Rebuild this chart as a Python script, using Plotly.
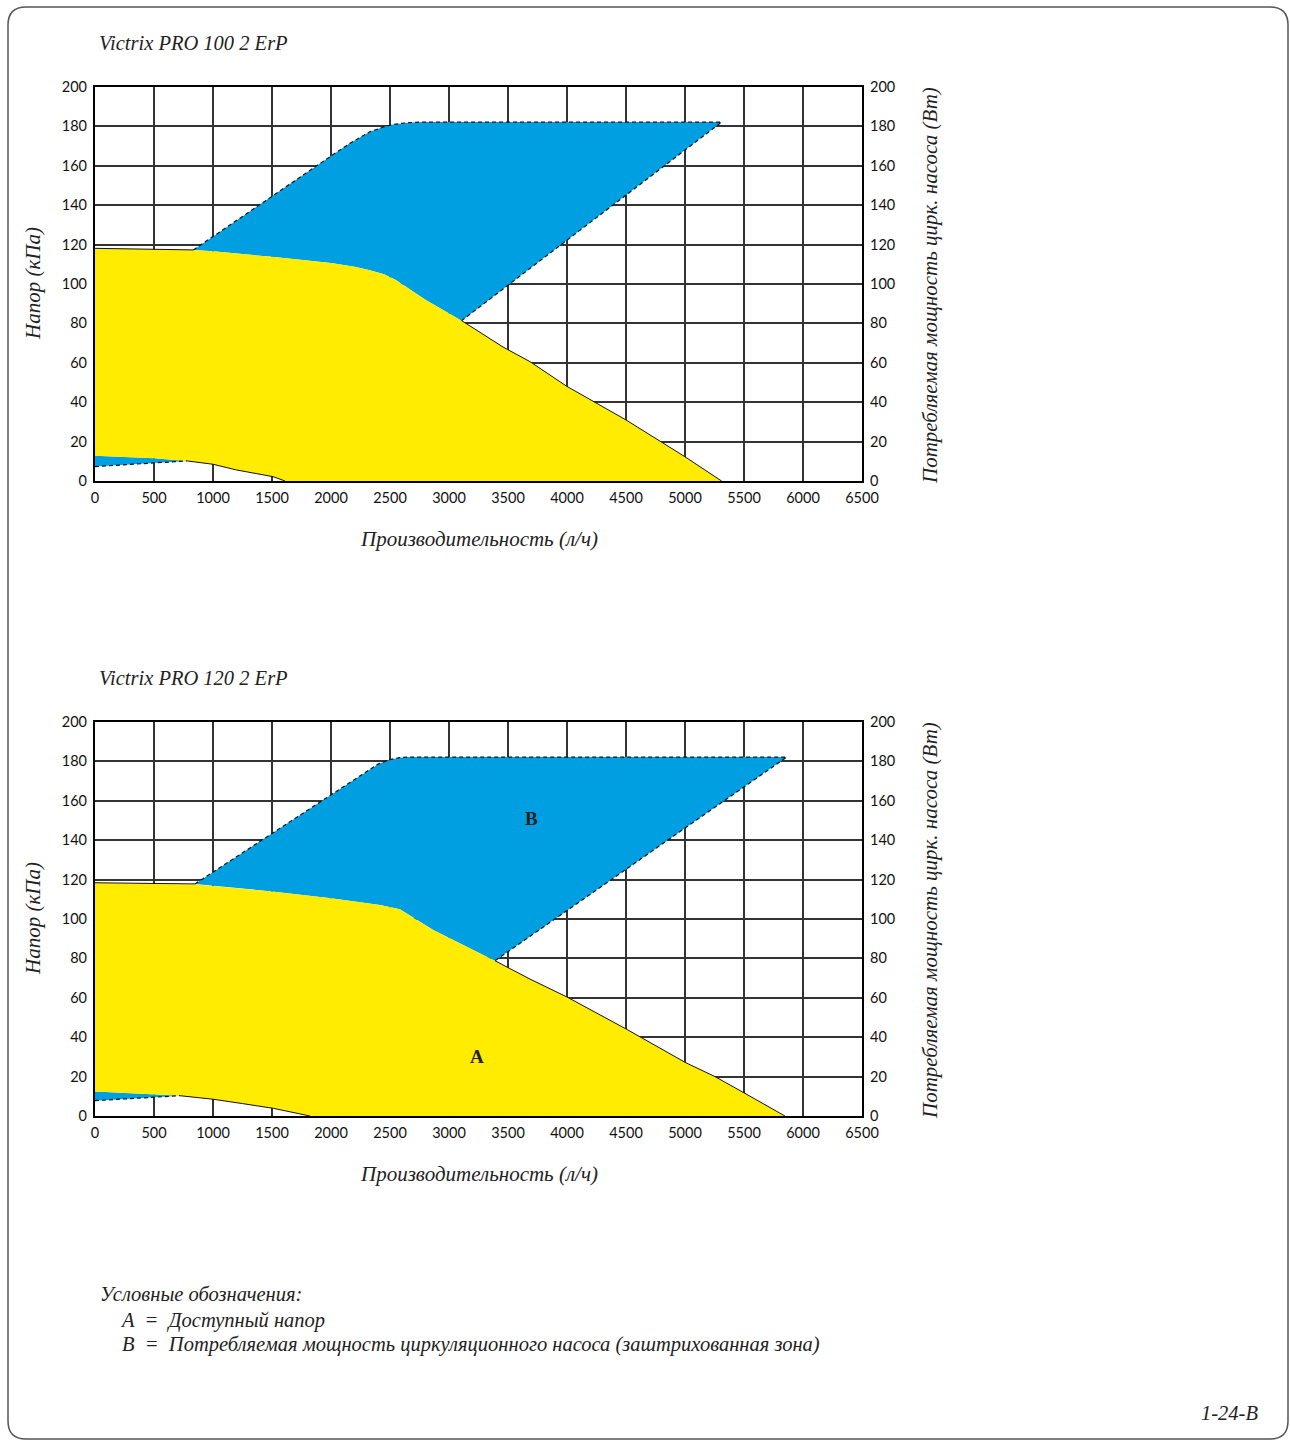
import plotly.graph_objects as go

W, H = 1290, 1441

# ---------------- Data: Victrix PRO 100 2 ErP ----------------
c1_head_x = [0, 200, 500, 833, 1000, 1500, 2000, 2200, 2330, 2450, 2550, 2800, 3107, 3458, 3686, 4000, 4500, 5000, 5310]
c1_head_y = [118.1, 118.0, 117.6, 117.3, 116.6, 113.8, 110.6, 108.8, 107.0, 105.0, 102.0, 92.0, 81.4, 68.0, 60.6, 48.0, 31.0, 12.3, 0.0]
c1_low_x = [0, 250, 500, 780, 1000, 1200, 1510, 1610]
c1_low_y = [12.8, 12.2, 11.5, 10.2, 8.5, 5.6, 2.2, 0.0]
c1_pmin_x = [0, 250, 500, 780]
c1_pmin_y = [7.3, 8.3, 9.3, 10.2]
c1_pmax_x = [833, 1000, 1500, 2000, 2161, 2330, 2450, 2528, 2650, 2780, 5310, 3107]
c1_pmax_y = [117.3, 124.2, 144.5, 165.0, 171.4, 177.3, 179.8, 181.0, 181.9, 182.2, 182.2, 81.4]

# ---------------- Data: Victrix PRO 120 2 ErP ----------------
c2_head_x = [0, 200, 500, 847, 1000, 1500, 2000, 2415, 2585, 2700, 2867, 3375, 3686, 4000, 4280, 4506, 5008, 5254, 5508, 5847]
c2_head_y = [118.4, 118.3, 117.8, 117.5, 116.8, 114.0, 110.5, 107.1, 104.9, 100.5, 94.4, 79.2, 69.5, 60.4, 51.3, 44.0, 27.0, 20.0, 11.5, 0.0]
c2_low_x = [0, 220, 438, 720, 1003, 1250, 1511, 1822]
c2_low_y = [12.4, 11.9, 11.2, 10.3, 8.5, 6.3, 3.9, 0.0]
c2_pmin_x = [0, 220, 438, 720]
c2_pmin_y = [7.8, 8.6, 9.3, 10.3]
c2_pmax_x = [847, 1000, 1500, 2000, 2200, 2398, 2500, 2580, 2650, 5862, 3390]
c2_pmax_y = [117.8, 123.8, 143.5, 163.3, 171.2, 178.6, 180.9, 181.9, 182.2, 182.2, 78.8]

x_ticks = [0, 500, 1000, 1500, 2000, 2500, 3000, 3500, 4000, 4500, 5000, 5500, 6000, 6500]
y_ticks = [0, 20, 40, 60, 80, 100, 120, 140, 160, 180, 200]

titles = ["Victrix PRO 100 2 ErP", "Victrix PRO 120 2 ErP"]
x_title = "Производительность (л/ч)"
y_title_left = "Напор (кПа)"
y_title_right = "Потребляемая мощность цирк. насоса (Вт)"
legend_lines = ["Условные обозначения:",
                "A  =  Доступный напор",
                "B  =  Потребляемая мощность циркуляционного насоса (заштрихованная зона)"]
page_code = "1-24-B"

BLUE = "#009FE1"
YELLOW = "#FFEC00"
SERIF = "Liberation Serif"
SANS = "Lato"


def px(x):
    return x / W


def py(y):
    return 1 - y / H


fig = go.Figure()

charts = [
    dict(head_x=c1_head_x, head_y=c1_head_y, low_x=c1_low_x, low_y=c1_low_y,
         pmin_x=c1_pmin_x, pmin_y=c1_pmin_y, pmax_x=c1_pmax_x, pmax_y=c1_pmax_y,
         xa="x", ya="y"),
    dict(head_x=c2_head_x, head_y=c2_head_y, low_x=c2_low_x, low_y=c2_low_y,
         pmin_x=c2_pmin_x, pmin_y=c2_pmin_y, pmax_x=c2_pmax_x, pmax_y=c2_pmax_y,
         xa="x2", ya="y3"),
]

for c in charts:
    xa, ya = c["xa"], c["ya"]
    hx, hy = c["head_x"], c["head_y"]
    lx, ly = c["low_x"], c["low_y"]
    n_band = len(c["pmin_x"])
    x0, x1 = c["pmax_x"][0], c["pmax_x"][-1]
    y0, y1 = c["pmax_y"][0], c["pmax_y"][-1]
    # blue upper region (power band) - closes along the head curve
    seg = [(x, y) for x, y in zip(hx, hy) if x0 < x < x1]
    bx = c["pmax_x"] + [p[0] for p in reversed(seg)] + [x0]
    by = c["pmax_y"] + [p[1] for p in reversed(seg)] + [y0]
    fig.add_trace(go.Scatter(x=bx, y=by, fill="toself", fillcolor=BLUE, mode="lines",
                             line=dict(width=0), xaxis=xa, yaxis=ya, hoverinfo="skip"))
    # small blue band at bottom-left
    sbx = c["pmin_x"] + list(reversed(lx[:n_band]))
    sby = c["pmin_y"] + list(reversed(ly[:n_band]))
    fig.add_trace(go.Scatter(x=sbx, y=sby, fill="toself", fillcolor=BLUE, mode="lines",
                             line=dict(width=0), xaxis=xa, yaxis=ya, hoverinfo="skip"))
    # yellow available head region
    yx = hx + list(reversed(lx))
    yy = hy + list(reversed(ly))
    fig.add_trace(go.Scatter(x=yx, y=yy, fill="toself", fillcolor=YELLOW, mode="lines",
                             line=dict(width=0), xaxis=xa, yaxis=ya, hoverinfo="skip"))
    # outlines of the yellow area where it borders white
    left_seg = [(x, y) for x, y in zip(hx, hy) if x < x0] + [(x0, y0)]
    right_seg = [(x1, y1)] + [(x, y) for x, y in zip(hx, hy) if x > x1]
    for s in (left_seg, right_seg):
        fig.add_trace(go.Scatter(x=[p[0] for p in s], y=[p[1] for p in s], mode="lines",
                                 line=dict(color="#111", width=1), xaxis=xa, yaxis=ya, hoverinfo="skip"))
    fig.add_trace(go.Scatter(x=lx[n_band - 1:], y=ly[n_band - 1:], mode="lines",
                             line=dict(color="#111", width=1), xaxis=xa, yaxis=ya, hoverinfo="skip"))
    # dashed power-band outlines
    fig.add_trace(go.Scatter(x=c["pmax_x"], y=c["pmax_y"], mode="lines",
                             line=dict(color="#111", width=1.2, dash="4px,3px"),
                             xaxis=xa, yaxis=ya, hoverinfo="skip"))
    fig.add_trace(go.Scatter(x=c["pmin_x"], y=c["pmin_y"], mode="lines",
                             line=dict(color="#111", width=1.2, dash="4px,3px"),
                             xaxis=xa, yaxis=ya, hoverinfo="skip"))

# invisible traces to activate right axes
fig.add_trace(go.Scatter(x=[0], y=[0], mode="markers", marker=dict(opacity=0), xaxis="x", yaxis="y2",
                         hoverinfo="skip"))
fig.add_trace(go.Scatter(x=[0], y=[0], mode="markers", marker=dict(opacity=0), xaxis="x2", yaxis="y4",
                         hoverinfo="skip"))

tickfont = dict(family=SANS, size=14.5, color="#111")
xdom = [px(95), px(862)]
xcommon = dict(range=[0, 6500], tickvals=x_ticks, showgrid=True, gridcolor="#333", gridwidth=1.5,
               showline=True, linecolor="#000", linewidth=2.2, mirror=True, zeroline=False,
               ticks="", tickfont=tickfont, domain=xdom, fixedrange=True, ticklabelstandoff=2)
ycommon = dict(range=[0, 200], tickvals=y_ticks, showgrid=True, gridcolor="#333", gridwidth=1.5,
               showline=True, linecolor="#000", linewidth=2.2, mirror=True, zeroline=False,
               ticks="", tickfont=tickfont, fixedrange=True, ticklabelstandoff=3)
yright = dict(range=[0, 200], tickvals=y_ticks, side="right", showgrid=False,
              zeroline=False, showline=False, ticks="", tickfont=tickfont, fixedrange=True,
              ticklabelstandoff=7)

fig.update_layout(
    autosize=True, margin=dict(l=0, r=0, t=0, b=0, autoexpand=False),
    paper_bgcolor="white", plot_bgcolor="white", showlegend=False,
    xaxis=dict(**xcommon, anchor="y"),
    yaxis=dict(**ycommon, domain=[py(481), py(87)], anchor="x"),
    yaxis2=dict(**yright, overlaying="y", anchor="x"),
    xaxis2=dict(**xcommon, anchor="y3"),
    yaxis3=dict(**ycommon, domain=[py(1116), py(722)], anchor="x2"),
    yaxis4=dict(**yright, overlaying="y3", anchor="x2"),
)

ann = []
tf = dict(family=SERIF, size=20.5, color="#222")
af = dict(family=SERIF, size=21, color="#222")
for i, (top, bot) in enumerate([(87, 481), (722, 1116)]):
    ann.append(dict(text="<i>%s</i>" % titles[i], x=px(97), y=py(top - 44), xref="paper", yref="paper",
                    xanchor="left", yanchor="middle", showarrow=False, font=tf))
    ann.append(dict(text="<i>%s</i>" % x_title, x=px(479), y=py(bot + 58), xref="paper", yref="paper",
                    xanchor="center", yanchor="middle", showarrow=False, font=af))
    ann.append(dict(text="<i>%s</i>" % y_title_left, x=px(33), y=py((top + bot) / 2), xref="paper",
                    yref="paper", xanchor="center", yanchor="middle", showarrow=False, font=af,
                    textangle=-90))
    ann.append(dict(text="<i>%s</i>" % y_title_right, x=px(930), y=py((top + bot) / 2 + 1), xref="paper",
                    yref="paper", xanchor="center", yanchor="middle", showarrow=False, font=af,
                    textangle=-90))

ann.append(dict(text="<b>A</b>", x=3237, y=30, xref="x2", yref="y3", showarrow=False,
                font=dict(family=SERIF, size=19, color="#222")))
ann.append(dict(text="<b>B</b>", x=3695, y=151, xref="x2", yref="y3", showarrow=False,
                font=dict(family=SERIF, size=19, color="#222")))

leg_pos = [(98, 1294), (118, 1320), (120, 1344)]
for (lxp, lyp), t in zip(leg_pos, legend_lines):
    ann.append(dict(text="<i>%s</i>" % t, x=px(lxp), y=py(lyp), xref="paper", yref="paper",
                    xanchor="left", yanchor="middle", showarrow=False, font=tf))
ann.append(dict(text="<i>%s</i>" % page_code, x=px(1260), y=py(1413), xref="paper", yref="paper",
                xanchor="right", yanchor="middle", showarrow=False, font=tf))
fig.update_layout(annotations=ann)

# rounded page border
r = 18
L, R, T, B = 8, 1288, 7, 1439
path = ("M {} {} L {} {} Q {} {} {} {} L {} {} Q {} {} {} {} L {} {} Q {} {} {} {} L {} {} Q {} {} {} {} Z"
        .format(px(L + r), py(T), px(R - r), py(T), px(R), py(T), px(R), py(T + r),
                px(R), py(B - r), px(R), py(B), px(R - r), py(B),
                px(L + r), py(B), px(L), py(B), px(L), py(B - r),
                px(L), py(T + r), px(L), py(T), px(L + r), py(T)))
fig.add_shape(type="path", path=path, xref="paper", yref="paper",
              line=dict(color="#555", width=1.5), layer="above")

post = ("document.documentElement.style.margin='0';document.documentElement.style.overflow='hidden';"
        "document.body.style.margin='0';document.body.style.overflow='hidden';"
        "var gd=document.getElementById('{plot_id}');"
        "gd.style.width='100vw';gd.style.height='100vh';"
        "Plotly.Plots.resize(gd);")
fig.write_html("out.html", default_width="100vw", default_height="100vh",
               config={"displayModeBar": False, "responsive": True}, post_script=post)
